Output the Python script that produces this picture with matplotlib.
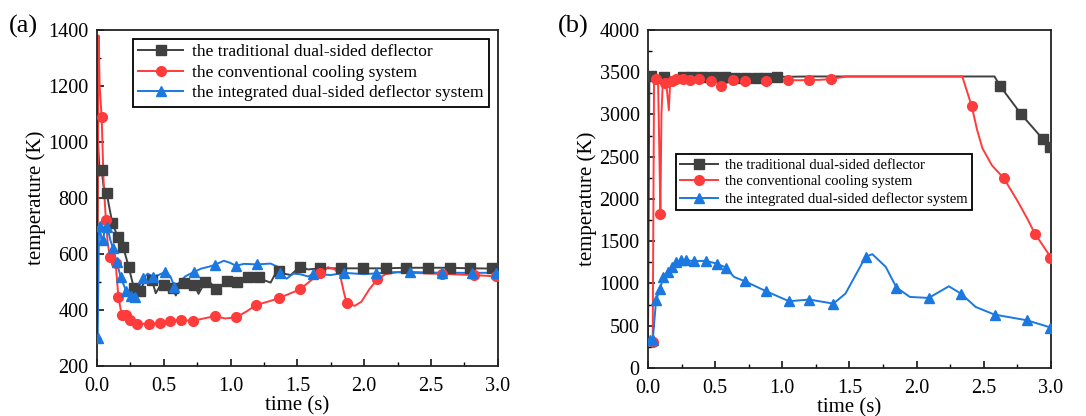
import matplotlib
matplotlib.use('Agg')
import matplotlib.pyplot as plt
from matplotlib.lines import Line2D
from matplotlib.ticker import MultipleLocator

plt.rcParams['font.family'] = ['Liberation Serif', 'DejaVu Serif']

# ---- panel (a) data ----
trad_a_t = [0.0, 0.008, 0.02, 0.035, 0.05, 0.072, 0.095, 0.115, 0.155, 0.197, 0.237, 0.277, 0.30,
            0.32, 0.36, 0.41, 0.44, 0.47, 0.50, 0.54, 0.57, 0.59, 0.62, 0.65, 0.69, 0.73, 0.76,
            0.81, 0.85, 0.89, 0.94, 0.97, 1.01, 1.05, 1.09, 1.13, 1.17, 1.21, 1.26, 1.30, 1.33,
            1.36, 1.40, 1.45, 1.52, 1.58, 1.67, 1.83, 1.99, 2.16, 2.31, 2.48, 2.64, 2.79, 3.0]
trad_a_T = [300, 1000, 880, 900, 840, 819, 760, 710, 662, 624, 555, 477, 455,
            469, 505, 509, 460, 485, 489, 490, 477, 452, 490, 497, 495, 489, 458,
            501, 497, 474, 490, 505, 500, 501, 510, 519, 520, 519, 505, 498, 525,
            539, 530, 525, 555, 545, 549, 549, 549, 549, 551, 551, 551, 549, 548]
trad_a_mt = [0.035, 0.072, 0.115, 0.155, 0.197, 0.237, 0.277, 0.32, 0.41, 0.50, 0.57, 0.65, 0.73,
             0.81, 0.89, 0.97, 1.05, 1.13, 1.21, 1.36, 1.52, 1.67, 1.83, 1.99, 2.16, 2.31, 2.48,
             2.64, 2.79, 2.96]
trad_a_mT = [900, 819, 710, 662, 624, 555, 477, 469, 509, 489, 477, 497, 489,
             501, 474, 505, 501, 519, 519, 539, 555, 549, 549, 549, 549, 551, 551,
             551, 549, 549]

conv_a_t = [0.0, 0.012, 0.02, 0.035, 0.05, 0.067, 0.08, 0.097, 0.14, 0.16, 0.185, 0.22, 0.25,
            0.30, 0.39, 0.47, 0.55, 0.63, 0.72, 0.80, 0.88, 0.96, 1.04, 1.12, 1.19, 1.28, 1.36,
            1.44, 1.52, 1.60, 1.67, 1.73, 1.78, 1.82, 1.85, 1.87, 1.93, 1.98, 2.04, 2.10, 2.16,
            2.25, 2.40, 2.58, 2.82, 3.0]
conv_a_T = [300, 1380, 1200, 1090, 850, 721, 640, 590, 567, 448, 382, 382, 364,
            352, 350, 354, 362, 364, 362, 370, 378, 370, 374, 395, 418, 430, 442,
            458, 474, 505, 531, 553, 545, 525, 460, 424, 415, 430, 475, 510, 528,
            535, 532, 529, 525, 520]
conv_a_mt = [0.035, 0.067, 0.097, 0.14, 0.16, 0.185, 0.22, 0.25, 0.30, 0.39, 0.47, 0.55, 0.63,
             0.72, 0.88, 1.04, 1.19, 1.36, 1.52, 1.67, 1.87, 2.10, 2.58, 2.82, 2.99]
conv_a_mT = [1090, 721, 590, 567, 448, 382, 382, 364, 352, 350, 354, 362, 364,
             362, 378, 374, 418, 442, 474, 531, 424, 510, 529, 525, 521]

integ_a_t = [0.005, 0.015, 0.022, 0.035, 0.047, 0.06, 0.077, 0.10, 0.12, 0.147, 0.177, 0.217,
             0.254, 0.284, 0.31, 0.346, 0.38, 0.42, 0.46, 0.51, 0.55, 0.58, 0.62, 0.66, 0.725,
             0.78, 0.84, 0.88, 0.95, 1.0, 1.04, 1.1, 1.2, 1.3, 1.35, 1.37, 1.42, 1.47, 1.52,
             1.58, 1.62, 1.75, 1.85, 2.0, 2.09, 2.2, 2.34, 2.58, 2.81, 3.0]
integ_a_T = [300, 700, 701, 640, 650, 700, 698, 650, 620, 573, 519, 469,
             450, 448, 480, 513, 530, 519, 525, 536, 520, 483, 500, 520, 536,
             548, 555, 561, 576, 568, 558, 565, 563, 566, 555, 533, 512, 530, 528,
             520, 529, 525, 533, 528, 531, 535, 536, 533, 533, 533]
integ_a_mt = [0.008, 0.022, 0.047, 0.077, 0.12, 0.147, 0.177, 0.217, 0.254, 0.284, 0.346, 0.42,
              0.51, 0.58, 0.725, 0.88, 1.04, 1.2, 1.37, 1.62, 1.85, 2.09, 2.34, 2.58, 2.81, 2.99]
integ_a_mT = [300, 701, 650, 698, 620, 573, 519, 469, 450, 448, 513, 519,
              536, 483, 536, 561, 558, 563, 533, 529, 533, 531, 536, 533, 533, 533]

# ---- panel (b) data ----
trad_b_t = [0.0, 0.01, 0.02, 0.12, 0.26, 0.33, 0.41, 0.49, 0.57, 0.65, 0.73, 0.81, 0.88, 0.96,
            1.2, 1.6, 2.0, 2.4, 2.58, 2.62, 2.78, 2.94, 3.0]
trad_b_T = [300, 3470, 3460, 3440, 3440, 3445, 3440, 3440, 3440, 3435, 3435, 3430, 3435, 3445,
            3450, 3450, 3450, 3450, 3450, 3340, 3000, 2709, 2600]
trad_b_mt = [0.02, 0.12, 0.26, 0.33, 0.41, 0.49, 0.57, 0.65, 0.73, 0.81, 0.88, 0.96,
             2.62, 2.78, 2.94, 2.99]
trad_b_mT = [3460, 3440, 3440, 3445, 3440, 3440, 3440, 3435, 3435, 3430, 3435, 3445,
             3340, 3000, 2709, 2618]

conv_b_t = [0.0, 0.035, 0.045, 0.055, 0.06, 0.075, 0.085, 0.092, 0.10, 0.11, 0.13, 0.14, 0.155,
            0.165, 0.18, 0.21, 0.26, 0.31, 0.35, 0.38, 0.43, 0.47, 0.51, 0.54, 0.58, 0.63, 0.67,
            0.72, 0.80, 0.88, 0.96, 1.04, 1.12, 1.2, 1.28, 1.36, 1.48, 2.34, 2.41, 2.45, 2.49,
            2.56, 2.65, 2.75, 2.83, 2.88, 2.94, 3.0]
conv_b_T = [280, 308, 3450, 3400, 3420, 3380, 2500, 1828, 3000, 3380, 3369, 3300, 3052,
            3380, 3400, 3424, 3416, 3408, 3380, 3420, 3400, 3396, 3390, 3337, 3370, 3408, 3400,
            3396, 3380, 3396, 3400, 3408, 3405, 3408, 3410, 3420, 3450, 3450, 3100, 2820, 2600,
            2400, 2243, 1980, 1750, 1591, 1450, 1307]
conv_b_mt = [0.035, 0.06, 0.092, 0.13, 0.18, 0.21, 0.26, 0.31, 0.38, 0.47, 0.54, 0.63, 0.72,
             0.88, 1.04, 1.2, 1.36, 2.41, 2.65, 2.88, 2.99]
conv_b_mT = [308, 3420, 1828, 3369, 3400, 3424, 3416, 3408, 3420, 3396, 3337, 3408, 3396,
             3396, 3408, 3408, 3420, 3100, 2243, 1591, 1307]

integ_b_t = [0.0, 0.015, 0.035, 0.06, 0.09, 0.115, 0.146, 0.18, 0.21, 0.245, 0.28, 0.345, 0.43,
             0.51, 0.58, 0.64, 0.72, 0.88, 1.05, 1.2, 1.38, 1.47, 1.62, 1.67, 1.77, 1.85, 1.95,
             2.09, 2.24, 2.33, 2.44, 2.58, 2.82, 3.0]
integ_b_T = [300, 328, 328, 800, 940, 1078, 1137, 1197, 1256, 1276, 1276, 1264, 1268,
             1236, 1189, 1078, 1027, 908, 790, 810, 762, 880, 1315, 1347, 1197, 952, 841,
             829, 967, 880, 722, 632, 565, 478]
integ_b_mt = [0.015, 0.035, 0.06, 0.09, 0.115, 0.146, 0.18, 0.21, 0.245, 0.28, 0.345, 0.43,
              0.51, 0.58, 0.72, 0.88, 1.05, 1.2, 1.38, 1.62, 1.85, 2.09, 2.33, 2.58, 2.82, 2.99]
integ_b_mT = [328, 328, 800, 940, 1078, 1137, 1197, 1256, 1276, 1276, 1264, 1268,
              1236, 1189, 1027, 908, 790, 810, 762, 1315, 952, 829, 880, 632, 565, 478]

labels = ['the traditional dual-sided deflector',
          'the conventional cooling system',
          'the integrated dual-sided deflector system']
colors = ['#404040', '#ff3b3b', '#1a78e0']
markers = ['s', 'o', '^']


def draw_panel(ax, series, ylim, ymajor, yminor, legend_kw, legend_size):
    for (t, T, mt, mT), c, m in zip(series, colors, markers):
        ax.plot(t, T, color=c, lw=1.4, zorder=2)
        ax.plot(mt, mT, ls='none', marker=m, color=c, ms=7, zorder=3)
    ax.set_xlim(0, 3.0)
    ax.set_ylim(*ylim)
    ax.xaxis.set_major_locator(MultipleLocator(0.5))
    ax.xaxis.set_minor_locator(MultipleLocator(0.25))
    ax.yaxis.set_major_locator(MultipleLocator(ymajor))
    ax.yaxis.set_minor_locator(MultipleLocator(yminor))
    ax.tick_params(which='both', direction='in', labelsize=14.5)
    ax.tick_params(axis='x', which='major', pad=8)
    ax.tick_params(axis='y', which='major', pad=6)
    ax.tick_params(which='major', length=5, width=1.1)
    ax.tick_params(which='minor', length=3, width=1.0)
    for s in ax.spines.values():
        s.set_linewidth(1.3)
        s.set_color('#222222')
    ax.set_xlabel('time (s)', fontsize=15, labelpad=0)
    ax.set_ylabel('temperature (K)', fontsize=15, labelpad=2)
    handles = [Line2D([], [], color=c, marker=m, lw=1.4, ms=7) for c, m in zip(colors, markers)]
    leg = ax.legend(handles, labels, fontsize=legend_size, fancybox=False, edgecolor='black',
                    framealpha=1, borderpad=0.3, labelspacing=0.25, handlelength=2.6,
                    handletextpad=0.5, borderaxespad=0, **legend_kw)
    leg.get_frame().set_linewidth(1.3)


fig = plt.figure(figsize=(10.86, 4.16), dpi=100)
ax_a = fig.add_axes([0.0893, 0.120, 0.369, 0.808])
ax_b = fig.add_axes([0.5967, 0.1154, 0.371, 0.8125])

draw_panel(ax_a,
           [(trad_a_t, trad_a_T, trad_a_mt, trad_a_mT),
            (conv_a_t, conv_a_T, conv_a_mt, conv_a_mT),
            (integ_a_t, integ_a_T, integ_a_mt, integ_a_mT)],
           (200, 1400), 200, 100,
           dict(loc='upper left', bbox_to_anchor=(0.09, 0.973)), 12.5)
draw_panel(ax_b,
           [(trad_b_t, trad_b_T, trad_b_mt, trad_b_mT),
            (conv_b_t, conv_b_T, conv_b_mt, conv_b_mT),
            (integ_b_t, integ_b_T, integ_b_mt, integ_b_mT)],
           (0, 4000), 500, 250,
           dict(loc='upper left', bbox_to_anchor=(0.069, 0.633)), 10.5)

fig.text(0.008, 0.937, '(a)', fontsize=19, va='center')
fig.text(0.514, 0.937, '(b)', fontsize=19, va='center')

fig.savefig('out.png', dpi=100)
plt.close(fig)
